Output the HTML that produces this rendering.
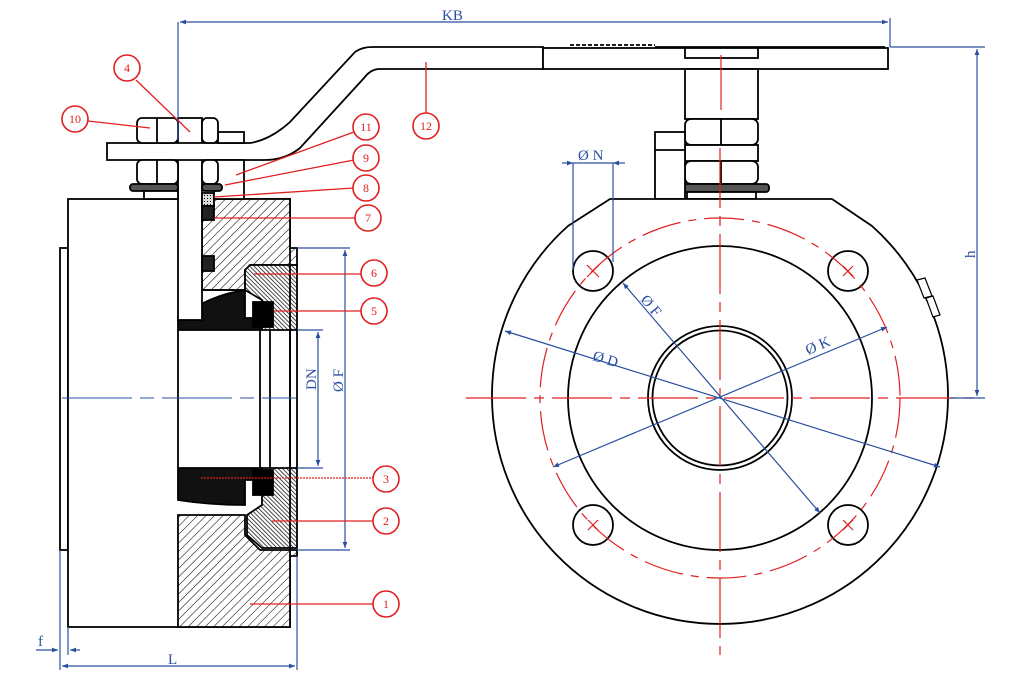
<!DOCTYPE html>
<html><head><meta charset="utf-8"><style>
html,body{margin:0;padding:0;background:#fff;}
svg{display:block;font-family:"Liberation Serif",serif;}
</style></head><body>
<svg width="1024" height="680" viewBox="0 0 1024 680" xmlns="http://www.w3.org/2000/svg">
<defs>
<pattern id="h1" width="6" height="6" patternUnits="userSpaceOnUse" patternTransform="rotate(45)">
<rect width="6" height="6" fill="#fff"/><line x1="0" y1="0" x2="0" y2="6" stroke="#000" stroke-width="1"/></pattern>
<pattern id="h2" width="3" height="3" patternUnits="userSpaceOnUse" patternTransform="rotate(-45)">
<rect width="3" height="3" fill="#fff"/><line x1="0" y1="0" x2="0" y2="3" stroke="#000" stroke-width="1.4"/></pattern>
<pattern id="dots" width="3" height="3" patternUnits="userSpaceOnUse">
<rect width="3" height="3" fill="#ddd"/><rect width="1" height="1" fill="#000"/></pattern>
<marker id="ab" viewBox="0 0 10 10" refX="10" refY="5" markerWidth="9" markerHeight="6" orient="auto-start-reverse" markerUnits="userSpaceOnUse">
<path d="M0,1 L10,5 L0,9 z" fill="#2a4fa0"/></marker>
</defs>

<!-- ===== LEFT VIEW ===== -->
<g stroke="#000" stroke-width="1.8" fill="none">
<!-- flange thin -->
<rect x="60" y="248" width="8" height="302" fill="#fff"/>
<!-- body -->
<rect x="68" y="199" width="222" height="428" fill="#fff"/>
<!-- hatched body top -->
<path d="M202,199 L290,199 L290,248 L297,248 L297,265 L250,265 L245,270 L245,290 L202,290 Z" fill="url(#h1)"/>
<!-- hatched body bottom -->
<path d="M178,515 L245,515 L245,535 L260,550 L297,550 L297,556 L290,556 L290,627 L178,627 Z" fill="url(#h1)"/>
<!-- seat rings 6/2 -->
<path d="M250,265 L297,265 L297,330 L262,330 L262,300 L245,290 L245,270 Z" fill="url(#h2)"/>
<path d="M262,468 L297,468 L297,548 L262,548 L247,535 L247,515 L262,505 Z" fill="url(#h2)"/>
<!-- ball top/bottom -->
<path d="M190,290 L245,290 L245,318 L262,318 L262,330 L178,330 L178,318 Q210,295 245,290" fill="#111"/>
<path d="M178,468 L262,468 L262,480 L245,480 L245,505 Q210,505 178,500 Z" fill="#111"/>
<rect x="253" y="302" width="20" height="25" fill="#000"/>
<rect x="253" y="470" width="20" height="25" fill="#000"/>
<!-- bore -->
<line x1="178" y1="330" x2="178" y2="468"/>
<line x1="260" y1="330" x2="260" y2="468"/>
<line x1="270" y1="330" x2="270" y2="468"/>
<line x1="297" y1="330" x2="297" y2="468"/>
<line x1="290" y1="248" x2="290" y2="556"/>
<!-- stem -->
<rect x="178" y="118" width="24" height="202" fill="#fff"/>
<!-- packing -->
<rect x="202" y="193" width="12" height="13" fill="url(#dots)"/>
<rect x="202" y="206" width="12" height="14" fill="#222"/>
<rect x="202" y="256" width="12" height="15" fill="#222"/>
<!-- plate and lever -->
<path d="M107,143 L250,143 Q270,140 290,122 L355,52 Q362,47 372,47 L543,47 L543,69 L378,69 Q370,70 364,78 L300,148 Q285,160 265,160 L107,160 Z" fill="#fff"/>
<rect x="218" y="132" width="26" height="11" fill="#fff"/>
<rect x="214" y="160" width="30" height="39" fill="#fff"/>
<!-- nuts -->
<rect x="137" y="118" width="41" height="25" rx="5" fill="#fff"/>
<rect x="202" y="118" width="16" height="25" rx="5" fill="#fff"/>
<rect x="137" y="160" width="41" height="24" rx="5" fill="#fff"/>
<rect x="202" y="160" width="16" height="24" rx="5" fill="#fff"/>
<line x1="157" y1="118" x2="157" y2="143"/><line x1="157" y1="160" x2="157" y2="184"/>
<rect x="130" y="184" width="48" height="7" rx="3" fill="#555"/>
<rect x="202" y="184" width="20" height="7" rx="3" fill="#555"/>
<rect x="144" y="191" width="34" height="8" fill="#fff"/>
<!-- handle head -->
<rect x="543" y="48" width="345" height="21" fill="#fff"/>
<line x1="570" y1="45" x2="655" y2="45" stroke-dasharray="4,2"/>
<line x1="655" y1="47" x2="885" y2="47"/>
<rect x="685" y="48" width="73" height="10" fill="#fff"/>
<rect x="685" y="69" width="73" height="50" fill="#fff"/>
<rect x="685" y="119" width="73" height="26" rx="6" fill="#fff"/>
<line x1="721" y1="119" x2="721" y2="145"/>
<rect x="685" y="145" width="73" height="16" fill="#fff"/>
<rect x="685" y="161" width="73" height="23" rx="6" fill="#fff"/>
<line x1="721" y1="161" x2="721" y2="184"/>
<rect x="674" y="184" width="95" height="8" rx="3" fill="#555"/>
<rect x="687" y="192" width="69" height="7" fill="#fff"/>
<rect x="655" y="132" width="30" height="67" fill="#fff"/>
<line x1="655" y1="150" x2="685" y2="150"/>
</g>
<!-- left centerline -->
<line x1="62" y1="398" x2="296" y2="398" stroke="#2a4fa0" stroke-width="1" stroke-dasharray="70,8,14,8"/>

<!-- ===== RIGHT VIEW ===== -->
<g stroke="#000" stroke-width="1.8" fill="none">
<path d="M610,199 L832,199 L872,226 A228,228 0 1 1 568,226 Z" fill="#fff"/>
<circle cx="720" cy="398" r="152"/>
<circle cx="720" cy="398" r="72"/>
<circle cx="720" cy="398" r="67.5"/>
<circle cx="593" cy="271" r="20"/><circle cx="848" cy="271" r="20"/>
<circle cx="593" cy="525" r="20"/><circle cx="848" cy="525" r="20"/>
<path d="M917,280 L925,278 L932,296 L924,298 Z M926,298 L933,296 L940,315 L933,317 Z" fill="#fff" stroke-width="1.2"/>
</g>
<g stroke="#e02020" stroke-width="1.2" fill="none">
<circle cx="720" cy="398" r="180" stroke-dasharray="40,8,8,8"/>
<line x1="466" y1="398" x2="975" y2="398" stroke-dasharray="60,8,10,8"/>
<line x1="720" y1="148" x2="720" y2="655" stroke-dasharray="60,8,10,8"/>
<line x1="721" y1="55" x2="721" y2="110"/>
<path d="M587,265 l12,12 M599,265 l-12,12 M843,266 l10,10 M853,266 l-10,10 M588,520 l10,10 M598,520 l-10,10 M843,520 l10,10 M853,520 l-10,10"/>
</g>

<!-- ===== DIMENSIONS (blue) ===== -->
<g stroke="#2a4fa0" stroke-width="1.2" fill="none">
<line x1="178" y1="22" x2="178" y2="140"/>
<line x1="890" y1="18" x2="890" y2="47"/>
<line x1="180" y1="22" x2="888" y2="22" marker-start="url(#ab)" marker-end="url(#ab)"/>
<line x1="890" y1="47" x2="985" y2="47"/>
<line x1="950" y1="398" x2="985" y2="398"/>
<line x1="977" y1="49" x2="977" y2="396" marker-start="url(#ab)" marker-end="url(#ab)"/>
<line x1="297" y1="248" x2="350" y2="248"/>
<line x1="297" y1="550" x2="350" y2="550"/>
<line x1="345" y1="250" x2="345" y2="548" marker-start="url(#ab)" marker-end="url(#ab)"/>
<line x1="297" y1="330" x2="323" y2="330"/>
<line x1="297" y1="468" x2="323" y2="468"/>
<line x1="318" y1="332" x2="318" y2="466" marker-start="url(#ab)" marker-end="url(#ab)"/>
<line x1="60" y1="550" x2="60" y2="670"/>
<line x1="68" y1="627" x2="68" y2="655"/>
<line x1="297" y1="556" x2="297" y2="670"/>
<line x1="62" y1="666" x2="295" y2="666" marker-start="url(#ab)" marker-end="url(#ab)"/>
<line x1="36" y1="650" x2="58" y2="650" marker-end="url(#ab)"/>
<line x1="80" y1="650" x2="70" y2="650" marker-end="url(#ab)"/>
<line x1="573" y1="163" x2="573" y2="270"/>
<line x1="613" y1="163" x2="613" y2="262"/>
<line x1="562" y1="163" x2="573" y2="163" marker-end="url(#ab)"/>
<line x1="625" y1="163" x2="613" y2="163" marker-end="url(#ab)"/>
<line x1="573" y1="163" x2="613" y2="163"/>
<line x1="505" y1="331" x2="940" y2="467" marker-start="url(#ab)" marker-end="url(#ab)"/>
<line x1="553" y1="467" x2="887" y2="327" marker-start="url(#ab)" marker-end="url(#ab)"/>
<line x1="623" y1="283" x2="820" y2="513" marker-start="url(#ab)" marker-end="url(#ab)"/>
</g>
<g fill="#2a4fa0" font-size="15">
<text x="442" y="20">KB</text>
<text x="578" y="160">Ø N</text>
<text x="592" y="360" transform="rotate(17 592 360)">Ø D</text>
<text x="808" y="355" transform="rotate(-23 808 355)">Ø K</text>
<text x="640" y="300" transform="rotate(50 640 300)">Ø F</text>
<text x="168" y="664">L</text>
<text x="38" y="646">f</text>
<text x="975" y="258" transform="rotate(-90 975 258)">h</text>
<text x="316" y="390" transform="rotate(-90 316 390)">DN</text>
<text x="343" y="392" transform="rotate(-90 343 392)">Ø F</text>
</g>

<!-- ===== CALLOUTS (red) ===== -->
<g stroke="#e02020" stroke-width="1.3" fill="none">
<line x1="88" y1="121" x2="150" y2="128"/>
<line x1="136" y1="80" x2="190" y2="132"/>
<line x1="354" y1="132" x2="236" y2="175"/>
<line x1="426" y1="114" x2="426" y2="62"/>
<line x1="354" y1="160" x2="225" y2="185"/>
<line x1="354" y1="188" x2="214" y2="197"/>
<line x1="356" y1="218" x2="214" y2="218"/>
<line x1="362" y1="274" x2="254" y2="274"/>
<line x1="362" y1="311" x2="274" y2="311"/>
<line x1="374" y1="478" x2="200" y2="478" stroke-dasharray="2,1"/>
<line x1="374" y1="521" x2="272" y2="521"/>
<line x1="374" y1="604" x2="250" y2="604"/>
</g>
<g stroke="#e02020" stroke-width="1.6" fill="#fff">
<circle cx="75" cy="119" r="13"/><circle cx="127" cy="68" r="13"/>
<circle cx="366" cy="127" r="13"/><circle cx="426" cy="126" r="13"/>
<circle cx="366" cy="158" r="13"/><circle cx="366" cy="188" r="13"/>
<circle cx="368" cy="218" r="13"/><circle cx="374" cy="273" r="13"/>
<circle cx="374" cy="311" r="13"/><circle cx="386" cy="479" r="13"/>
<circle cx="386" cy="521" r="13"/><circle cx="386" cy="604" r="13"/>
</g>
<g fill="#e02020" font-size="12" text-anchor="middle">
<text x="75" y="123">10</text><text x="127" y="72">4</text>
<text x="366" y="131">11</text><text x="426" y="130">12</text>
<text x="366" y="162">9</text><text x="366" y="192">8</text>
<text x="368" y="222">7</text><text x="374" y="277">6</text>
<text x="374" y="315">5</text><text x="386" y="483">3</text>
<text x="386" y="525">2</text><text x="386" y="608">1</text>
</g>
</svg>
</body></html>
